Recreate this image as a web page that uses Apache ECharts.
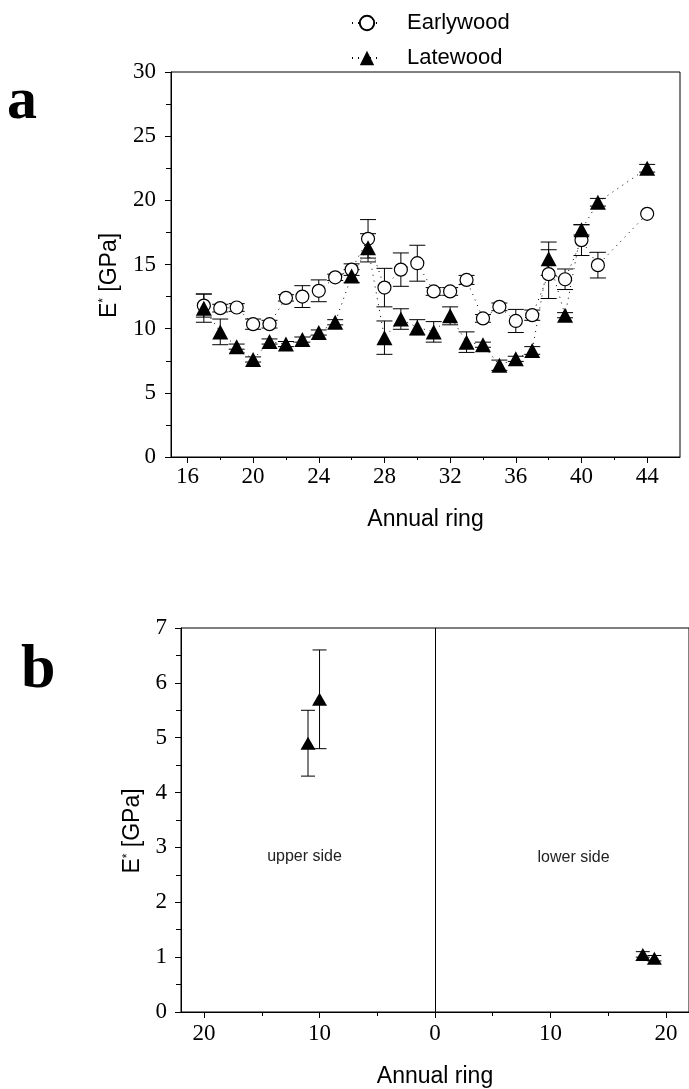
<!DOCTYPE html>
<html>
<head>
<meta charset="utf-8">
<script src="https://cdn.jsdelivr.net/npm/echarts@6/dist/echarts.min.js"></script>
<style>
  html, body { margin: 0; padding: 0; background: #fff; }
  #chart { width: 689px; height: 1089px; }
</style>
</head>
<body>
<div id="chart"></div>
<script>
// panel a: annual rings 17-41 and 44
const rings = [17, 18, 19, 20, 21, 22, 23, 24, 25, 26, 27, 28, 29, 30, 31, 32, 33, 34, 35, 36, 37, 38, 39, 40, 41, 44]
const earlywood = [11.8, 11.6, 11.65, 10.35, 10.35, 12.4, 12.5, 12.95, 14.0, 14.6, 17.0, 13.2, 14.6, 15.1, 12.9, 12.9, 13.8, 10.8, 11.7, 10.6, 11.05, 14.25, 13.85, 16.9, 14.95, 18.95]
const earlywoodErr = [0.9, 0.3, 0.3, 0.4, 0.3, 0.25, 0.85, 0.85, 0.25, 0.45, 1.5, 1.5, 1.3, 1.4, 0.3, 0.3, 0.35, 0.3, 0.3, 0.9, 0.4, 1.9, 0.8, 1.2, 1.0, 0]
const latewood = [11.6, 9.75, 8.6, 7.6, 9.0, 8.8, 9.15, 9.7, 10.5, 14.1, 16.3, 9.3, 10.75, 10.1, 9.75, 11.0, 8.95, 8.75, 7.15, 7.65, 8.3, 15.45, 11.05, 17.7, 19.85, 22.5]
const latewoodErr = [1.1, 1.0, 0.2, 0.2, 0.2, 0.2, 0.2, 0.2, 0.2, 0.5, 1.1, 1.3, 0.8, 0.6, 0.8, 0.7, 0.8, 0.2, 0.4, 0.2, 0.3, 1.3, 0.2, 0.4, 0.3, 0.3]
const ticksA = [16, 20, 24, 28, 32, 36, 40, 44]
const minorTicksA = [18, 22, 26, 30, 34, 38, 42]

// panel b: upper side rings drawn left of 0, lower side right of 0
const upperRings = [11, 10]
const upperE = [4.9, 5.7]
const upperErr = [0.6, 0.9]
const lowerRings = [18, 19]
const lowerE = [1.05, 0.98]
const lowerErr = [0.05, 0.05]
const ticksB = [-20, -10, 0, 10, 20]
const minorTicksB = [-15, -5, 5, 15]
const sideLabels = [['upper side', -11.3, 2.83], ['lower side', 12.0, 2.81]]

const serif = 'Liberation Serif'
const sans = 'Liberation Sans'
const black = '#000'

function pairs(xs, ys) {
  return xs.map((x, i) => [x, ys[i]])
}
function bars(xs, ys, es) {
  return xs.map((x, i) => [x, ys[i] - es[i], ys[i] + es[i]])
}

function errorBar(cap) {
  return function(params, api) {
    const x = api.value(0)
    const lo = api.coord([x, api.value(1)])
    const hi = api.coord([x, api.value(2)])
    const style = { stroke: black, lineWidth: 1 }
    if (hi[1] === lo[1]) return null
    return {
      type: 'group',
      children: [
        { type: 'line', shape: { x1: lo[0], y1: lo[1], x2: hi[0], y2: hi[1] }, style: style },
        { type: 'line', shape: { x1: lo[0] - cap, y1: lo[1], x2: lo[0] + cap, y2: lo[1] }, style: style },
        { type: 'line', shape: { x1: hi[0] - cap, y1: hi[1], x2: hi[0] + cap, y2: hi[1] }, style: style }
      ]
    }
  }
}

const axisLine = { show: true, onZero: false, lineStyle: { color: black, width: 1 } }
const tickLabel = { color: black, fontFamily: serif, fontSize: 23 }
const nameStyle = {
  color: black,
  fontFamily: sans,
  fontSize: 23,
  rich: {
    e: { fontFamily: sans, fontSize: 23, color: black },
    s: { fontFamily: sans, fontSize: 12, color: black, verticalAlign: 'top' },
    p: { width: 22 }
  }
}
const yName = '{e|E}{s|*}{e| [GPa]}{p|}'

const chart = echarts.init(document.getElementById('chart'), null, { renderer: 'canvas' })

chart.setOption({
  animation: false,
  backgroundColor: '#fff',
  legend: {
    data: ['Earlywood', 'Latewood'],
    orient: 'vertical',
    left: 346,
    top: 7,
    itemWidth: 30,
    itemHeight: 18,
    itemGap: 13,
    textStyle: { color: black, fontFamily: sans, fontSize: 22, padding: [0, 0, 0, 20] }
  },
  graphic: [
    { type: 'text', left: 7, top: 72, style: { text: 'a', font: 'bold 60px "Liberation Serif"', fill: black } },
    { type: 'text', left: 21, top: 640, style: { text: 'b', font: 'bold 62px "Liberation Serif"', fill: black } }
  ],
  grid: [
    { left: 171, right: 9, top: 72, bottom: 632, show: true, borderColor: black, borderWidth: 1 },
    { left: 181, right: -2, top: 628, bottom: 75, show: true, borderColor: black, borderWidth: 1 }
  ],
  xAxis: [
    {
      gridIndex: 0, type: 'value', min: 15, max: 46,
      axisLine: axisLine,
      axisTick: { show: true, length: 6, customValues: ticksA, lineStyle: { color: black } },
      axisLabel: { customValues: ticksA, margin: 8, ...tickLabel },
      splitLine: { show: false },
      name: 'Annual ring', nameLocation: 'middle', nameGap: 51, nameTextStyle: nameStyle
    },
    {
      gridIndex: 0, type: 'value', min: 15, max: 46, position: 'bottom',
      axisLine: { show: false },
      axisTick: { show: true, length: 3, customValues: minorTicksA, lineStyle: { color: black } },
      axisLabel: { show: false },
      splitLine: { show: false }
    },
    {
      gridIndex: 1, type: 'value', min: -22, max: 22,
      axisLine: axisLine,
      axisTick: { show: true, length: 6, customValues: ticksB, lineStyle: { color: black } },
      axisLabel: { customValues: ticksB, margin: 10, formatter: v => String(Math.abs(v)), ...tickLabel },
      splitLine: { show: false },
      name: 'Annual ring', nameLocation: 'middle', nameGap: 53, nameTextStyle: nameStyle
    },
    {
      gridIndex: 1, type: 'value', min: -22, max: 22, position: 'bottom',
      axisLine: { show: false },
      axisTick: { show: true, length: 4, customValues: minorTicksB, lineStyle: { color: black } },
      axisLabel: { show: false },
      splitLine: { show: false }
    }
  ],
  yAxis: [
    {
      gridIndex: 0, type: 'value', min: 0, max: 30, interval: 5,
      axisLine: axisLine,
      axisTick: { show: true, length: 6, lineStyle: { color: black } },
      minorTick: { show: true, splitNumber: 2, length: 5, lineStyle: { color: black } },
      axisLabel: { margin: 15, ...tickLabel },
      splitLine: { show: false },
      name: yName, nameLocation: 'middle', nameGap: 50, nameTextStyle: nameStyle
    },
    {
      gridIndex: 1, type: 'value', min: 0, max: 7, interval: 1,
      axisLine: axisLine,
      axisTick: { show: true, length: 6, lineStyle: { color: black } },
      minorTick: { show: true, splitNumber: 2, length: 5, lineStyle: { color: black } },
      axisLabel: { margin: 14, ...tickLabel },
      splitLine: { show: false },
      name: yName, nameLocation: 'middle', nameGap: 35, nameTextStyle: nameStyle
    }
  ],
  series: [
    {
      name: 'Earlywood err', type: 'custom', xAxisIndex: 0, yAxisIndex: 0,
      renderItem: errorBar(8), encode: { x: 0, y: [1, 2] },
      data: bars(rings, earlywood, earlywoodErr), silent: true
    },
    {
      name: 'Latewood err', type: 'custom', xAxisIndex: 0, yAxisIndex: 0,
      renderItem: errorBar(8), encode: { x: 0, y: [1, 2] },
      data: bars(rings, latewood, latewoodErr), silent: true
    },
    {
      name: 'Earlywood', type: 'line', xAxisIndex: 0, yAxisIndex: 0,
      data: pairs(rings, earlywood),
      symbol: 'circle', symbolSize: 13,
      itemStyle: { color: '#fff', borderColor: black, borderWidth: 1.2 },
      lineStyle: { color: black, width: 1, type: [1, 5] }
    },
    {
      name: 'Latewood', type: 'line', xAxisIndex: 0, yAxisIndex: 0,
      data: pairs(rings, latewood),
      symbol: 'triangle', symbolSize: [16, 15],
      itemStyle: { color: black, borderColor: black, borderWidth: 0 },
      lineStyle: { color: black, width: 1, type: [1, 5] }
    },
    {
      name: 'upper err', type: 'custom', xAxisIndex: 2, yAxisIndex: 1,
      renderItem: errorBar(7), encode: { x: 0, y: [1, 2] },
      data: bars(upperRings.map(r => -r), upperE, upperErr), silent: true
    },
    {
      name: 'lower err', type: 'custom', xAxisIndex: 2, yAxisIndex: 1,
      renderItem: errorBar(7), encode: { x: 0, y: [1, 2] },
      data: bars(lowerRings, lowerE, lowerErr), silent: true
    },
    {
      name: 'Latewood b', type: 'scatter', xAxisIndex: 2, yAxisIndex: 1,
      data: pairs(upperRings.map(r => -r), upperE).concat(pairs(lowerRings, lowerE)),
      symbol: 'triangle', symbolSize: [15, 13],
      itemStyle: { color: black, opacity: 1 },
      markLine: {
        silent: true, symbol: 'none', label: { show: false },
        lineStyle: { color: black, width: 1, type: 'solid' },
        data: [{ xAxis: 0 }]
      },
      markPoint: {
        symbol: 'circle', symbolSize: 0,
        label: { show: true, formatter: '{b}', color: '#222', fontFamily: sans, fontSize: 16 },
        data: sideLabels.map(d => ({ name: d[0], coord: [d[1], d[2]] }))
      }
    }
  ]
})
</script>
</body>
</html>
